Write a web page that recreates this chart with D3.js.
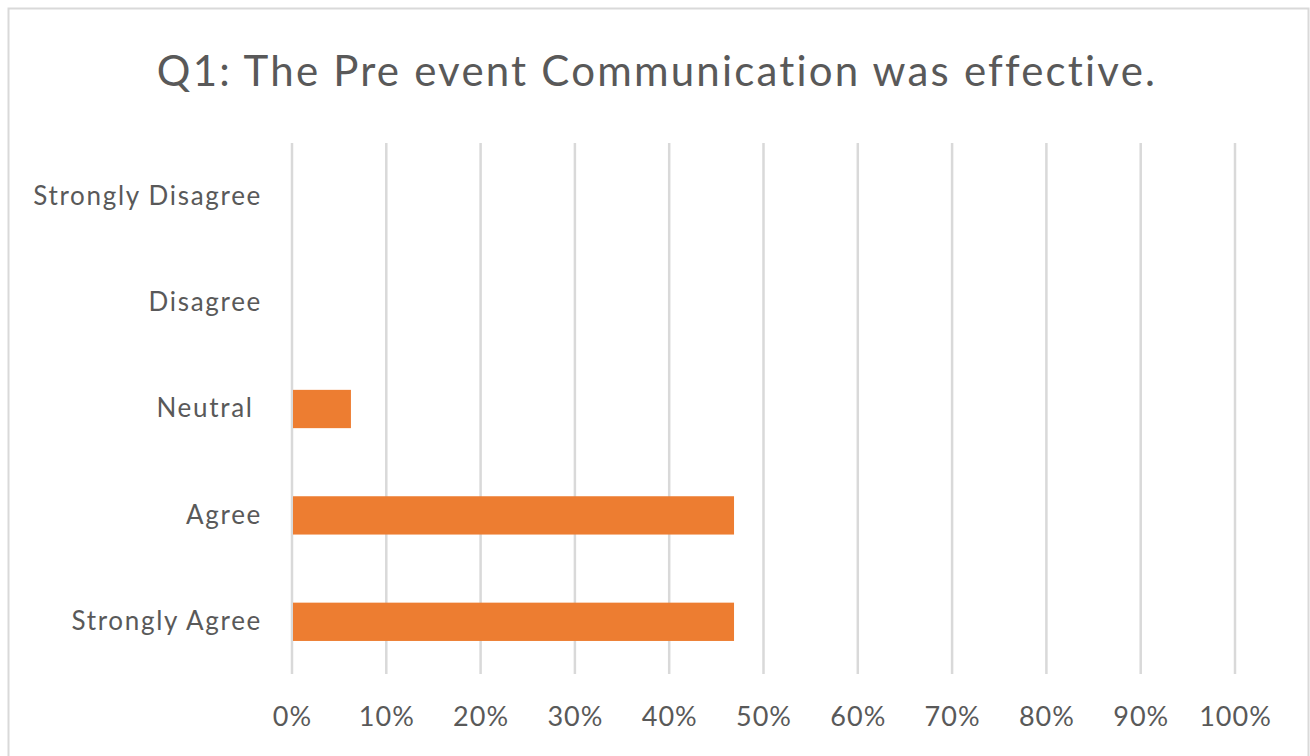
<!DOCTYPE html>
<html>
<head>
<meta charset="utf-8">
<script src="https://cdn.jsdelivr.net/npm/d3@7"></script>
<style>
  html, body { margin: 0; padding: 0; background: #fff; }
  svg { display: block; }
</style>
</head>
<body>
<svg id="chart" width="1310" height="756"></svg>
<script>
// ---- data ----
const title = "Q1: The Pre event Communication was effective.";
const categories = ["Strongly Disagree", "Disagree", "Neutral ", "Agree", "Strongly Agree"];
const values = [0, 0, 0.0625, 0.46875, 0.46875];
const tickValues = [0, 0.1, 0.2, 0.3, 0.4, 0.5, 0.6, 0.7, 0.8, 0.9, 1.0];

// ---- layout ----
const W = 1310, H = 756;
const plot = { left: 292, right: 1235, top: 143, bottom: 675 };
const fontFamily = "Lato, 'Open Sans', sans-serif";
const textColor = "#595959";

const svg = d3.select("#chart");

// outer border
svg.append("rect")
  .attr("x", 8.5).attr("y", 8.5)
  .attr("width", W - 10).attr("height", H + 20)
  .attr("fill", "#fff")
  .attr("stroke", "#d9d9d9").attr("stroke-width", 2);

const x = d3.scaleLinear().domain([0, 1]).range([plot.left, plot.right]);
const y = d3.scaleBand().domain(categories).range([plot.top, plot.bottom]).paddingInner(0.64).paddingOuter(0.32);

// gridlines
svg.append("g")
  .selectAll("line")
  .data(tickValues)
  .join("line")
  .attr("x1", d => x(d)).attr("x2", d => x(d))
  .attr("y1", plot.top).attr("y2", plot.bottom - 1)
  .attr("stroke", "#d9d9d9").attr("stroke-width", 2.5);

// bars
svg.append("g")
  .selectAll("rect")
  .data(categories.map((c, i) => ({ c, v: values[i] })))
  .join("rect")
  .attr("x", x(0) + 1)
  .attr("y", d => y(d.c))
  .attr("width", d => Math.max(0, x(d.v) - x(0) - 1))
  .attr("height", y.bandwidth())
  .attr("fill", "#ed7d31");

// x axis labels
const xAxis = d3.axisBottom(x)
  .tickValues(tickValues)
  .tickFormat(d3.format(".0%"))
  .tickSize(0)
  .tickPadding(0);
const gx = svg.append("g")
  .attr("transform", `translate(0, ${plot.bottom + 32})`)
  .call(xAxis);
gx.select(".domain").remove();
gx.selectAll("text")
  .attr("font-family", fontFamily)
  .attr("font-size", 27)
  .attr("letter-spacing", 1)
  .attr("fill", textColor)
  .attr("dy", "0.71em");

// y axis labels
const yAxis = d3.axisLeft(y).tickSize(0).tickPadding(30);
const gy = svg.append("g")
  .attr("transform", `translate(${plot.left}, 0)`)
  .call(yAxis);
gy.select(".domain").remove();
gy.selectAll("text")
  .attr("font-family", fontFamily)
  .attr("font-size", 26)
  .attr("letter-spacing", 1.7)
  .style("white-space", "pre")
  .attr("fill", textColor);

// title
svg.append("text")
  .attr("x", 657)
  .attr("y", 86)
  .attr("text-anchor", "middle")
  .attr("font-family", fontFamily)
  .attr("font-size", 42)
  .attr("letter-spacing", 2.2)
  .attr("fill", textColor)
  .text(title);
</script>
</body>
</html>
